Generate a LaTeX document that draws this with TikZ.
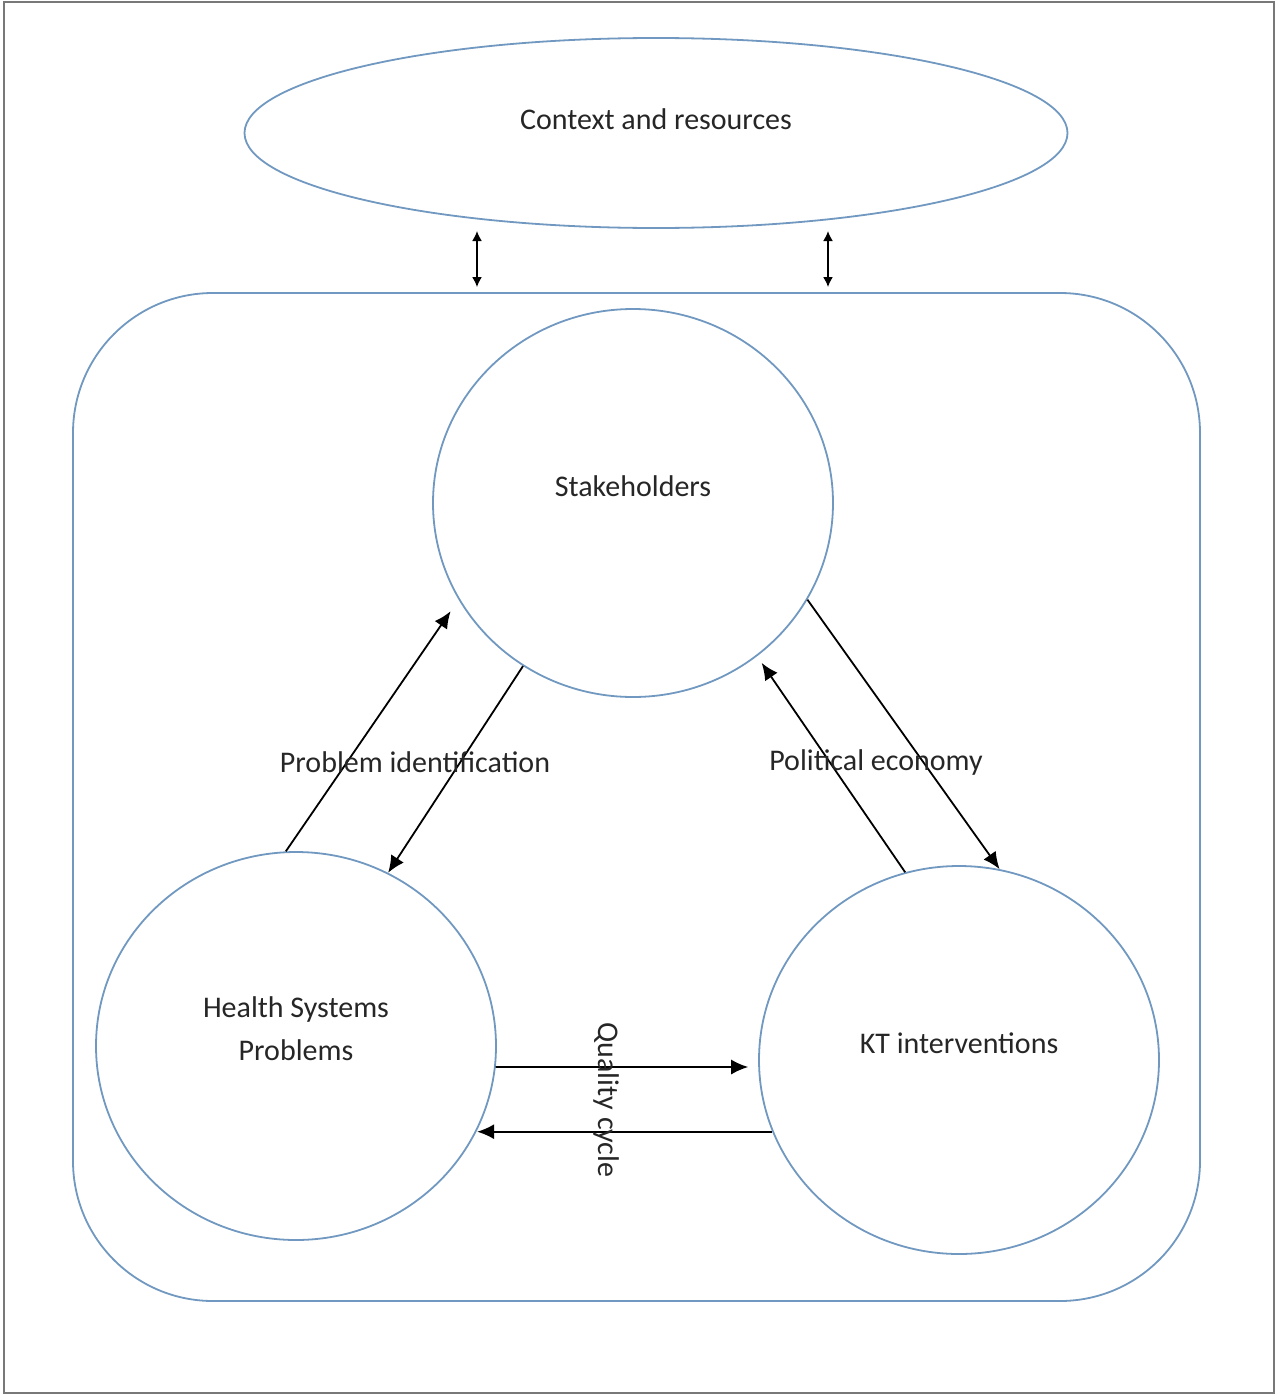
\documentclass[tikz,border=0pt]{standalone}
\usepackage{fontspec}
\setmainfont{Carlito}
\usepackage{tikz}
\usetikzlibrary{arrows.meta,shapes}
\definecolor{boxblue}{RGB}{112,152,192}
\definecolor{framegray}{RGB}{120,120,120}
\tikzstyle{bigvertex}=[ellipse,draw=boxblue,line width=0.9pt,minimum width=200pt,minimum height=194pt,inner sep=0pt]
\tikzstyle{weight}=[font=\fontsize{15}{21.5}\selectfont,text=black!85,align=center]
\tikzstyle{arrow}=[-{Latex[length=8.5pt,width=7.5pt]},line width=0.9pt]
\tikzstyle{smallarrow}=[{Latex[length=5pt,width=5pt]}-{Latex[length=5pt,width=5pt]},line width=0.9pt]

\begin{document}
\begin{tikzpicture}[x=0.5pt,y=-0.5pt]
\useasboundingbox (0,0) rectangle (1277,1397);
\draw[framegray, line width=1.2pt] (4,2) rectangle (1274,1393);

%context
\node[bigvertex, minimum width=411.5pt, minimum height=95pt, label={[weight,yshift=7pt]center:Context and resources}] (ctx) at (656,133) {};

%box
\node[draw=boxblue, line width=0.9pt, rounded corners=70pt, minimum width=563.5pt, minimum height=504pt, inner sep=0pt] (box) at (636.5,797) {};

\foreach \x in {477,828}{
  \coordinate (t\x) at (\x,231);
  \draw[smallarrow, shorten >=2.5pt] (t\x) -- (t\x |- box.north);
}

%circles
\foreach \pos/\name/\label in {{(633,503)/stake/Stakeholders}, {(296,1046)/hsp/{Health Systems\\Problems}}, {(959,1060)/kt/KT interventions}}
    \node[bigvertex, label={[weight,yshift=8.5pt]center:\label}] (\name) at \pos {};

\foreach \source/\dest/\gap in {hsp.93/stake.209/7pt, stake.236/hsp.62/0pt, kt.106/stake.309/4pt, stake.331/kt.78/0pt, hsp.354/kt.182/5pt}
    \draw[arrow, shorten >=\gap] (\source) -- (\dest);
\draw[arrow] (kt.201) -- (kt.201 -| hsp.335);

\node[weight] (pi) at (415,762) {Problem identification};
\node[weight] (pe) at (876,762) {Political economy};
\node[weight, rotate=-90] (qc) at (606,1100) {Quality cycle};

\end{tikzpicture}
\end{document}
